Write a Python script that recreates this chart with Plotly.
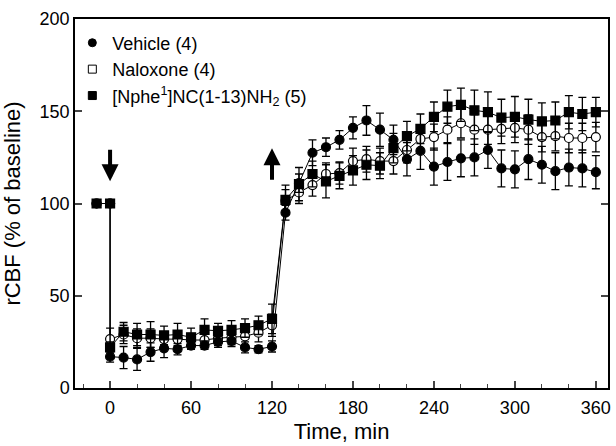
import plotly.graph_objects as go

# ---- data ----
times = [-10, 0] + list(range(0, 361, 10))

vehicle = [100, 100,
           17, 16.5, 15.5, 19.5, 21.5, 21, 23, 23, 25, 25.5, 22, 21, 22.5,
           95, 111, 127.5, 130.5, 134.5, 141, 145, 140, 134.5, 124, 128.5, 120,
           122.5, 124.5, 125, 129, 119, 118.5, 124, 121, 117.5, 119.5, 119, 117]
vehicle_err = [0, 0,
               3, 6, 6, 5, 5, 3, 2, 2, 3, 3, 3, 2, 3,
               4, 5, 7, 5, 5, 6, 8, 9, 8, 9, 10, 10, 10, 10, 10, 10, 10, 10, 11, 10, 10, 10, 10, 9]

naloxone = [100, 100,
            26.5, 29, 27, 27, 26.5, 26.5, 26, 26, 27, 27.5, 28, 30, 34,
            101.5, 106, 110, 116, 116.5, 123, 124, 123, 123, 129, 135, 136,
            140, 143.5, 140, 140, 140.5, 141, 140, 136, 136.5, 135.5, 135.5, 136]
naloxone_err = [0, 0,
                6, 5, 5, 5, 4, 4, 3, 4, 4, 4, 5, 5, 6,
                6, 6, 6, 6, 6, 7, 7, 7, 7, 7, 7, 7, 7, 8, 8, 8, 8, 8, 8, 8, 8, 8, 8, 8]

nphe = [100, 100,
        22, 30.5, 29, 29, 28.5, 29, 27.5, 31.5, 31, 31.5, 32.5, 34, 37.5,
        102, 110.5, 116, 112, 115, 118, 121, 120.5, 130, 136.5, 140.5, 147,
        152.5, 153.5, 150.5, 149.5, 146.5, 147, 145.5, 144.5, 145, 149.5, 148.5, 149.5]
nphe_err = [0, 0,
            3, 5, 6, 7, 5, 6, 5, 6, 4, 5, 5, 5, 8,
            8, 9, 7, 9, 7, 8, 8, 7, 8, 8, 8, 8, 9, 9, 11, 11, 10, 11, 11, 10, 10, 9, 9, 8]

legend_names = ["Vehicle (4)", "Naloxone (4)", "[Nphe<sup>1</sup>]NC(1-13)NH<sub>2</sub> (5)"]
x_ticks = [0, 60, 120, 180, 240, 300, 360]
y_ticks = [0, 50, 100, 150, 200]

FONT = "Liberation Sans, Arial, sans-serif"

fig = go.Figure()

def add_series(y, err, symbol, fill):
    fig.add_trace(go.Scatter(
        x=times, y=y, mode="lines+markers", showlegend=False,
        line=dict(color="black", width=1),
        marker=dict(symbol=symbol, size=9, color=fill, line=dict(color="black", width=1.2)),
        error_y=dict(type="data", array=err, visible=True, color="black", thickness=1.3, width=4),
    ))

add_series(naloxone, naloxone_err, "circle", "white")
add_series(vehicle, vehicle_err, "circle", "black")
add_series(nphe, nphe_err, "square", "black")

# legend entries
for name, sym, fill in zip(legend_names, ["circle", "square", "square"], ["black", "white", "black"]):
    fig.add_trace(go.Scatter(
        x=[None], y=[None], mode="markers", name=name,
        marker=dict(symbol=sym, size=8, color=fill, line=dict(color="black", width=1)),
    ))

# arrows
fig.add_annotation(x=0, y=112, ax=0, ay=130, xref="x", yref="y", axref="x", ayref="y",
                   showarrow=True, arrowhead=2, arrowwidth=4, arrowsize=0.85, arrowcolor="black", text="")
fig.add_annotation(x=120, y=130, ax=120, ay=112, xref="x", yref="y", axref="x", ayref="y",
                   showarrow=True, arrowhead=2, arrowwidth=4, arrowsize=0.85, arrowcolor="black", text="")

fig.update_layout(
    width=616, height=446,
    margin=dict(l=75, r=5, t=19, b=58),
    paper_bgcolor="white", plot_bgcolor="white",
    font=dict(family=FONT, size=18, color="black"),
    legend=dict(x=-0.005, y=0.985, xanchor="left", yanchor="top", bgcolor="rgba(0,0,0,0)",
                font=dict(size=18), tracegroupgap=0),
    showlegend=True,
)
fig.update_xaxes(
    range=[-26, 369], tickvals=x_ticks, ticks="inside", ticklen=7, tickwidth=1.5,
    showline=True, linecolor="black", linewidth=1.5, mirror=True,
    showgrid=False, zeroline=False,
    minor=dict(dtick=20, tick0=0, ticks="inside", ticklen=4, tickwidth=1, showgrid=False),
    title=dict(text="Time, min", standoff=6), tickfont=dict(size=18), ticklabelstandoff=3,
)
fig.update_yaxes(
    range=[0, 200], tickvals=y_ticks, ticks="inside", ticklen=7, tickwidth=1.5,
    showline=True, linecolor="black", linewidth=1.5, mirror="ticks",
    showgrid=False, zeroline=False,
    title=dict(text="rCBF (% of baseline)", standoff=13), tickfont=dict(size=18),
)

fig.write_html("out.html", config={"displayModeBar": False},
               post_script="document.body.style.margin='0px';")
